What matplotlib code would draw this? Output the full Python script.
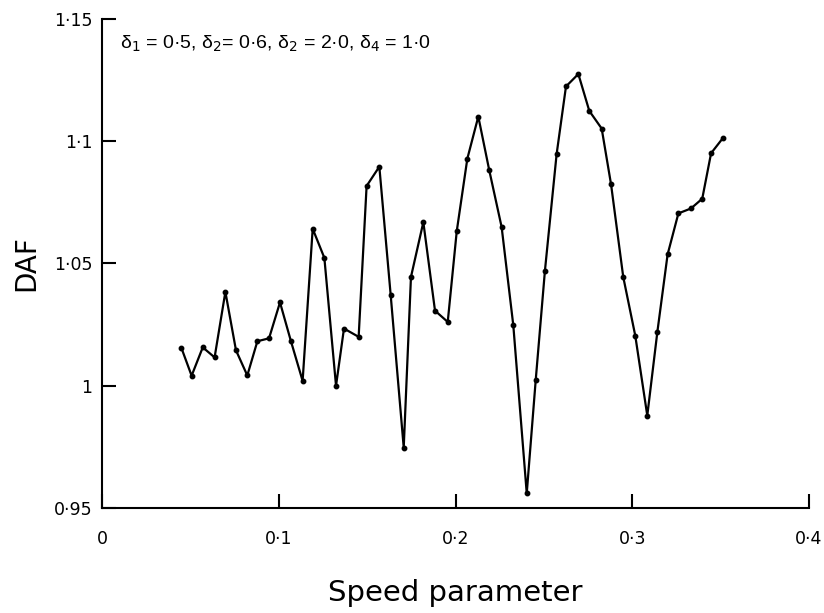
import matplotlib
matplotlib.use("Agg")
import matplotlib.pyplot as plt

# speed parameter vs dynamic amplification factor
speed = [0.0449, 0.0507, 0.0570, 0.0637, 0.0698, 0.0758, 0.0822, 0.0879, 0.0945, 0.1007,
         0.1069, 0.1135, 0.1192, 0.1258, 0.1324, 0.1369, 0.1452, 0.1497, 0.1569, 0.1633,
         0.1707, 0.1748, 0.1818, 0.1884, 0.1956, 0.2007, 0.2067, 0.2129, 0.2191, 0.2261,
         0.2327, 0.2403, 0.2454, 0.2506, 0.2572, 0.2625, 0.2695, 0.2757, 0.2827, 0.2880,
         0.2949, 0.3017, 0.3085, 0.3142, 0.3200, 0.3261, 0.3332, 0.3396, 0.3446, 0.3515]
daf = [1.0155, 1.0041, 1.0157, 1.0116, 1.0384, 1.0145, 1.0042, 1.0182, 1.0194, 1.0341,
       1.0182, 1.0020, 1.0642, 1.0523, 1.0000, 1.0234, 1.0200, 1.0817, 1.0896, 1.0373,
       0.9747, 1.0445, 1.0669, 1.0307, 1.0261, 1.0632, 1.0929, 1.1101, 1.0881, 1.0649,
       1.0247, 0.9560, 1.0025, 1.0471, 1.0947, 1.1224, 1.1275, 1.1124, 1.1052, 1.0824,
       1.0445, 1.0205, 0.9878, 1.0220, 1.0537, 1.0705, 1.0725, 1.0765, 1.0951, 1.1015]

xticks = [0.0, 0.1, 0.2, 0.3, 0.4]
xticklabels = ["0", "0·1", "0·2", "0·3", "0·4"]
yticks = [0.95, 1.0, 1.05, 1.1, 1.15]
yticklabels = ["0·95", "1", "1·05", "1·1", "1·15"]

fig = plt.figure(figsize=(8.24, 6.13), dpi=100)
ax = fig.add_axes([0.1238, 0.1713, 0.8580, 0.7977])

ax.plot(speed, daf, color="black", linewidth=1.6, marker="o", markersize=3.2)

ax.set_xlim(0, 0.4)
ax.set_ylim(0.95, 1.15)
ax.set_xticks(xticks)
ax.set_xticklabels(xticklabels)
ax.set_yticks(yticks)
ax.set_yticklabels(yticklabels)

for side in ("top", "right"):
    ax.spines[side].set_visible(False)
for side in ("left", "bottom"):
    ax.spines[side].set_linewidth(1.5)

ax.tick_params(axis="x", direction="in", length=10, width=1.5, pad=16, labelsize=12.5)
ax.tick_params(axis="y", direction="in", length=10, width=1.5, pad=7, labelsize=12.5)

ax.set_xlabel("Speed parameter", fontsize=21, labelpad=22)
ax.set_ylabel("DAF", fontsize=20, labelpad=10)

ax.text(0.010, 1.140, "δ$_1$ = 0·5, δ$_2$= 0·6, δ$_2$ = 2·0, δ$_4$ = 1·0",
        fontsize=14, ha="left", va="center",
        family=["Liberation Sans", "DejaVu Sans"])

fig.savefig("out.png", dpi=100)
